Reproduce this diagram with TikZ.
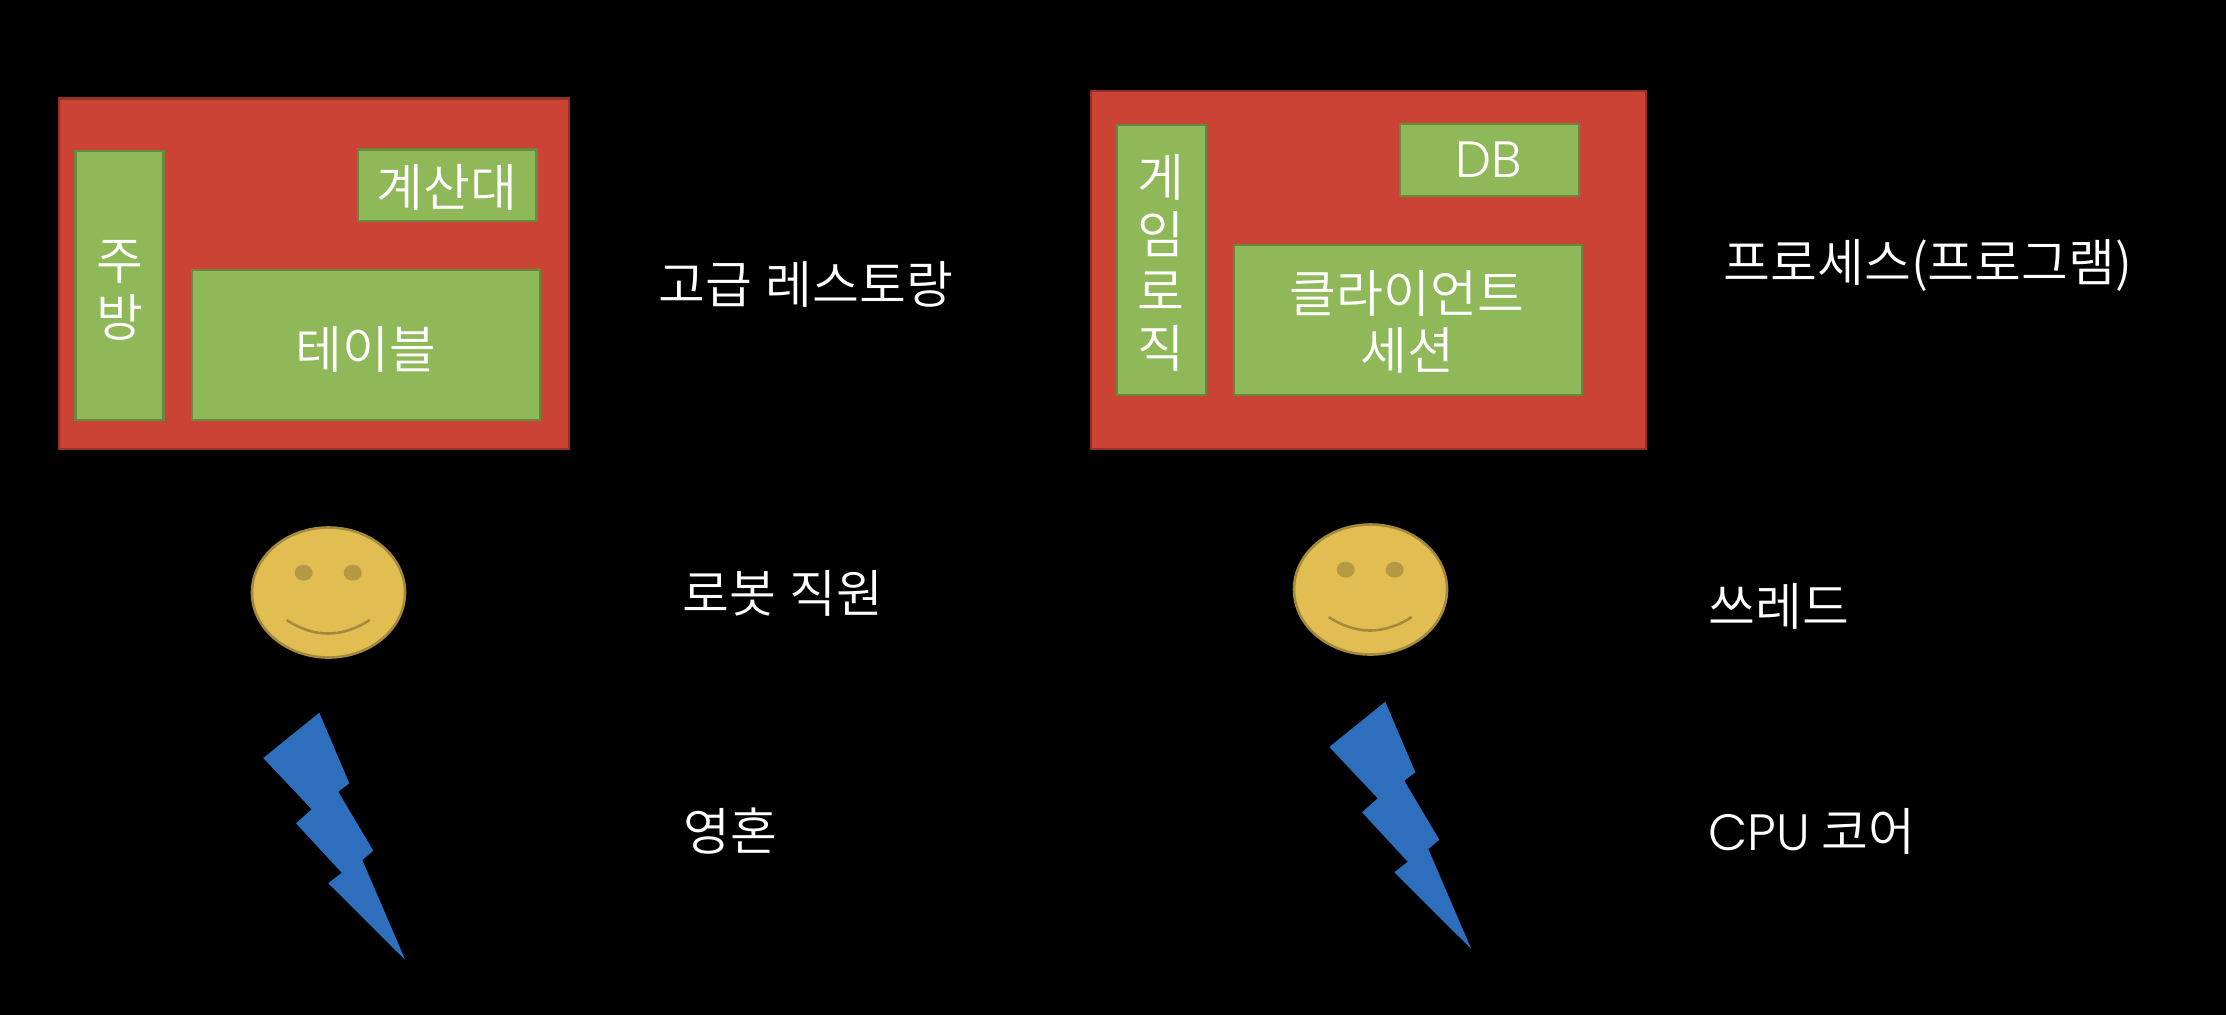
\documentclass[tikz,border=0pt]{standalone}
\usepackage{fontspec}
\setmainfont{Noto Sans CJK KR DemiLight}
\newfontfamily\latinf{Poppins Light}
\definecolor{redf}{HTML}{CB4335}
\definecolor{redd}{HTML}{943126}
\definecolor{greenf}{HTML}{8FB858}
\definecolor{greend}{HTML}{668A3E}
\definecolor{yel}{HTML}{E2BE52}
\definecolor{yeld}{HTML}{A48B3C}
\definecolor{eye}{HTML}{B59A45}
\definecolor{bolt}{HTML}{2E6FBD}
\tikzset{
 bigfont/.style={font=\fontsize{25.5}{28.5}\selectfont},
 outerbox/.style={draw=redd,fill=redf,line width=1.3pt},
 innerbox/.style={draw=greend,fill=greenf,line width=1.3pt},
 boxtext/.style={text=white,align=center,inner sep=0pt,bigfont},
 lab/.style={text=white,anchor=base west,inner sep=0pt,bigfont},
 faceshape/.style={draw=yeld,fill=yel,line width=1.3pt},
 feye/.style={draw=none,fill=eye},
 smile/.style={draw=yeld,line width=1.3pt},
 boltshape/.style={fill=bolt,draw=none},
 robot/.pic={
  \draw[faceshape] (328.5,592.5) ellipse [x radius=76.5,y radius=65];
  \fill[feye] (303.7,572.7) ellipse [x radius=9,y radius=8];
  \fill[feye] (352.7,572.7) ellipse [x radius=9,y radius=8];
  \draw[smile] (286.7,620) .. controls (314,638) and (342,638) .. (369.7,620);
 },
 lightning/.pic={
  \fill[boltshape] (319.3,712.7) -- (349.3,783.3) -- (338.3,791.7) -- (373.3,850.7)
   -- (362.3,860) -- (405.3,960) -- (328.3,883.3) -- (341.7,872.7) -- (296,823.3)
   -- (311.7,809.3) -- (263.3,758) -- cycle;
 },
}
\begin{document}
\begin{tikzpicture}[x=0.5pt,y=-0.5pt]
\useasboundingbox (0,0) rectangle (2226,1014);
\fill[black] (-10,-10) rectangle (2236,1024);
% left
\draw[outerbox] (59,98.5) rectangle (569,449);
\draw[innerbox] (75.5,151) rectangle (163.5,420);
\node[boxtext] (kitchen) at (119.5,290) {주\\방};
\draw[innerbox] (358,149.5) rectangle (536.5,221);
\node[boxtext] (counter) at (447,187.5) {계산대};
\draw[innerbox] (192,270) rectangle (540,420);
\node[boxtext] (table) at (366,349) {테이블};
\node[lab] (l1) at (658,303.5) {고급\hspace{1pt} 레스토랑};
\node[lab] (l2) at (682,612.5) {로봇\hspace{1pt} 직원};
\node[lab] (l3) at (683,850.5) {영혼};
\pic {robot};
\pic {lightning};
% right
\draw[outerbox] (1091,91) rectangle (1646,449);
\draw[innerbox] (1117,125) rectangle (1206,395);
\node[boxtext] (logic) at (1161,263) {게\\임\\로\\직};
\draw[innerbox] (1400,124) rectangle (1579,196);
\node[boxtext] (db) at (1489,160) {\latinf DB};
\draw[innerbox] (1234,245) rectangle (1582,395);
\node[boxtext] (client) at (1407,322) {클라이언트\\세션};
\node[lab] (r1) at (1723,281) {프로세스(프로그램)};
\node[lab] (r2) at (1708,625) {쓰레드};
\node[lab] (r3) at (1708,850.5) {{\latinf CPU} 코어};
\begin{scope}[shift={(1042,-3)}]
\pic {robot};
\end{scope}
\begin{scope}[shift={(1066,-11)}]
\pic {lightning};
\end{scope}
\end{tikzpicture}
\end{document}
